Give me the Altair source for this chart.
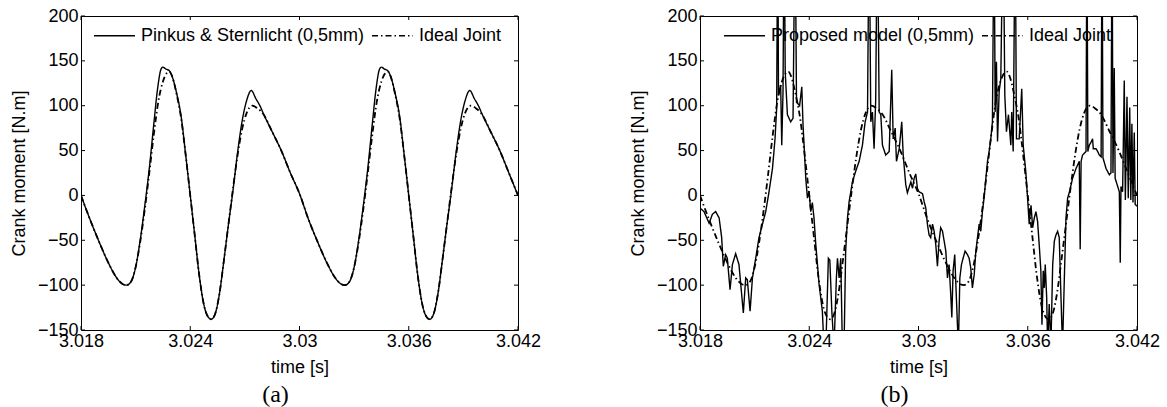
import altair as alt
import pandas as pd

T0 = 3.018  # time origin, s ; all time values below are offsets in ms

# ---------------- data ----------------
x_ticks = [3.018, 3.024, 3.030, 3.036, 3.042]
y_ticks = [-150, -100, -50, 0, 50, 100, 150, 200]

names_a = ["Pinkus & Sternlicht (0,5mm)", "Ideal Joint"]
names_b = ["Proposed model (0,5mm)", "Ideal Joint"]

# Ideal joint (same in both panels)
ideal = [
    (0.0, 0), (0.5, -27), (1.0, -52), (1.5, -75), (2.0, -93), (2.3, -99), (2.5, -100), (2.75, -96),
    (3.0, -80), (3.25, -52), (3.5, -16), (3.75, 25), (4.0, 68), (4.25, 105), (4.5, 127), (4.7, 136),
    (4.85, 138), (5.0, 133), (5.25, 113), (5.5, 86), (5.75, 45), (6.0, 0), (6.25, -45), (6.5, -90),
    (6.75, -122), (7.0, -136), (7.15, -138), (7.35, -133), (7.6, -110), (7.85, -72), (8.1, -32),
    (8.35, 8), (8.6, 45), (8.85, 74), (9.1, 92), (9.4, 100), (9.7, 97), (10.0, 91), (10.5, 71),
    (11.0, 50), (11.5, 25),
    (12.0, 2), (12.5, -27), (13.0, -52), (13.5, -75), (14.0, -93), (14.3, -99), (14.5, -100),
    (14.75, -96), (15.0, -80), (15.25, -52), (15.5, -16), (15.75, 25), (16.0, 68), (16.25, 105),
    (16.5, 127), (16.7, 136), (16.85, 138), (17.0, 133), (17.25, 113), (17.5, 86), (17.75, 45),
    (18.0, 0), (18.25, -45), (18.5, -90), (18.75, -122), (19.0, -136), (19.15, -138), (19.35, -133),
    (19.6, -110), (19.85, -72), (20.1, -32), (20.35, 8), (20.6, 45), (20.85, 74), (21.1, 92),
    (21.4, 100), (21.7, 97), (22.0, 91), (22.5, 71), (23.0, 50), (23.5, 25), (24.0, 0),
]

# Pinkus & Sternlicht (panel a)
pinkus = [
    (0.0, 0), (0.5, -27), (1.0, -52), (1.5, -75), (2.0, -93), (2.3, -99), (2.5, -100), (2.75, -96),
    (3.0, -80), (3.25, -50), (3.5, -12), (3.75, 30), (4.0, 80), (4.2, 118), (4.4, 141), (4.5, 143),
    (4.65, 141), (4.85, 139), (5.0, 133), (5.25, 114), (5.5, 88), (5.75, 45), (6.0, 0), (6.25, -45),
    (6.5, -90), (6.75, -122), (7.0, -136), (7.15, -138), (7.35, -133), (7.6, -110), (7.85, -72),
    (8.1, -32), (8.35, 6), (8.6, 48), (8.85, 83), (9.1, 106), (9.35, 117), (9.6, 108), (9.85, 99),
    (10.0, 92), (10.5, 71), (11.0, 50), (11.5, 25),
    (12.0, 2), (12.5, -27), (13.0, -52), (13.5, -75), (14.0, -93), (14.3, -99), (14.5, -100),
    (14.75, -96), (15.0, -80), (15.25, -50), (15.5, -12), (15.75, 30), (16.0, 80), (16.2, 118),
    (16.4, 141), (16.5, 143), (16.65, 141), (16.85, 139), (17.0, 133), (17.25, 114), (17.5, 88),
    (17.75, 45), (18.0, 0), (18.25, -45), (18.5, -90), (18.75, -122), (19.0, -136), (19.15, -138),
    (19.35, -133), (19.6, -110), (19.85, -72), (20.1, -32), (20.35, 6), (20.6, 48), (20.85, 83),
    (21.1, 106), (21.35, 117), (21.6, 108), (21.85, 99), (22.0, 92), (22.5, 71), (23.0, 50),
    (23.5, 25), (24.0, 0),
]

# Proposed model (panel b) - noisy, spikes leave the axes
proposed = [
    (0.00, -14), (0.22, -18), (0.50, -31), (0.68, -21), (0.86, -18), (1.05, -25), (1.19, -47),
    (1.28, -79), (1.41, -66), (1.50, -70), (1.65, -105), (1.78, -77), (1.96, -65), (2.14, -77),
    (2.38, -131), (2.51, -92), (2.60, -94), (2.75, -129), (2.88, -92), (3.06, -70), (3.24, -47),
    (3.43, -32), (3.61, -18), (3.79, 4), (3.98, 30), (4.12, 63), (4.21, 97), (4.27, 320),
    (4.31, 112), (4.43, 123), (4.49, 56), (4.56, 116), (4.62, 320), (4.68, 138), (4.80, 90),
    (4.98, 82), (5.11, 86), (5.22, 320), (5.30, 104), (5.47, 100), (5.59, 121), (5.66, 78),
    (5.81, 19), (5.90, -3), (5.99, 5), (6.08, -18), (6.17, -8), (6.26, -25), (6.36, -55),
    (6.45, -77), (6.54, -99), (6.63, -114), (6.72, -129), (6.81, -170), (6.91, -170), (7.05, -70),
    (7.13, -72), (7.24, -129), (7.36, -170), (7.49, -92), (7.55, -70), (7.64, -92), (7.73, -70),
    (7.82, -170), (7.91, -170), (8.00, -62), (8.10, -25), (8.19, -7), (8.37, 15), (8.55, 27),
    (8.74, 38), (8.92, 56), (9.07, 82), (9.20, 93), (9.29, 320), (9.38, 82), (9.47, 93),
    (9.56, 52), (9.65, 107), (9.74, 320), (9.84, 93), (9.93, 90), (10.02, 56), (10.20, 45),
    (10.39, 49), (10.53, 140), (10.61, 63), (10.72, 75), (10.79, 38), (10.94, 52), (11.08, 82),
    (11.16, 45), (11.30, 12), (11.39, 3), (11.58, 15), (11.67, 8), (11.76, 19), (11.85, 24),
    (11.94, 8), (12.03, 4), (12.22, 2), (12.31, -7), (12.40, -14), (12.49, -32), (12.58, -44),
    (12.67, -47), (12.77, -32), (12.86, -40), (12.95, -55), (13.04, -79), (13.13, -51),
    (13.22, -36), (13.32, -40), (13.41, -51), (13.50, -62), (13.59, -92), (13.68, -77),
    (13.77, -110), (13.83, -136), (13.90, -84), (13.99, -66), (14.08, -114), (14.19, -170),
    (14.27, -92), (14.36, -77), (14.45, -70), (14.56, -62), (14.69, -66), (14.78, -70),
    (14.87, -81), (14.96, -103), (15.06, -88), (15.15, -62), (15.24, -47), (15.33, -32),
    (15.42, -40), (15.51, -18), (15.60, -3), (15.70, 19), (15.79, 38), (15.88, 49), (15.97, 63),
    (16.06, 82), (16.15, 320), (16.21, 93), (16.28, 149), (16.34, 60), (16.43, 116), (16.52, 130),
    (16.65, 320), (16.74, 112), (16.83, 71), (16.94, 90), (17.07, 56), (17.12, 93), (17.20, 49),
    (17.31, 320), (17.38, 63), (17.53, 63), (17.67, 119), (17.75, 56), (17.89, 27), (17.99, -3),
    (18.08, -32), (18.18, -11), (18.27, -36), (18.36, -25), (18.45, -18), (18.54, -29),
    (18.63, -55), (18.72, -84), (18.78, -144), (18.85, -84), (18.91, -103), (18.96, -77),
    (19.04, -114), (19.09, -170), (19.18, -121), (19.27, -170), (19.37, -77), (19.46, -51),
    (19.55, -44), (19.64, -40), (19.73, -47), (19.82, -110), (19.91, -170), (20.01, -92),
    (20.10, -25), (20.19, -3), (20.29, 4), (20.46, 19), (20.65, 30), (20.83, 38), (20.88, -60),
    (20.93, 38), (21.01, 45), (21.20, 49), (21.25, 320), (21.30, 49), (21.38, 56), (21.47, 59),
    (21.56, 63), (21.60, 52), (21.75, 52), (21.84, 49), (21.93, 45), (22.03, 43), (22.08, 320),
    (22.13, 42), (22.30, 30), (22.48, 23), (22.57, 25), (22.63, 320), (22.68, 25), (22.75, 142),
    (22.80, 19), (22.94, 10), (23.03, 4), (23.08, -75), (23.12, 10), (23.21, 4), (23.30, 128),
    (23.36, -5), (23.45, 110), (23.52, -3), (23.60, 98), (23.66, -5), (23.72, 80), (23.78, -8),
    (23.85, 70), (23.90, -10), (24.00, -12),
]


def to_df(pairs, name):
    return pd.DataFrame({
        "t": [T0 + p[0] / 1000.0 for p in pairs],
        "v": [p[1] for p in pairs],
        "series": name,
    })


# ---------------- styling ----------------
FONT = "Liberation Sans"
W, H = 437, 314
TK = 4  # inward tick length

xs = alt.Scale(domain=[3.018, 3.042], nice=False, zero=False)
ys = alt.Scale(domain=[-150, 200], nice=False, zero=False)

x_axis = alt.Axis(values=x_ticks, format=".3~f", title="time [s]", ticks=False, domain=False,
                  grid=False, labelFlush=False, labelOverlap=False, labelPadding=2,
                  labelFont=FONT, labelFontSize=18, labelColor="black",
                  titleFont=FONT, titleFontSize=18, titleFontWeight="normal", titleColor="black",
                  titlePadding=8)
y_axis = alt.Axis(values=y_ticks, title="Crank moment [N.m]", ticks=False, domain=False,
                  grid=False, labelOverlap=False, labelPadding=3,
                  labelFont=FONT, labelFontSize=18, labelColor="black",
                  titleFont=FONT, titleFontSize=18, titleFontWeight="normal", titleColor="black",
                  titlePadding=9)


def panel(solid_df, ideal_df, names, solid_interp, legend_x, letter):
    leg = alt.Legend(title=None, orient="none", legendX=legend_x, legendY=-2,
                     direction="horizontal", symbolType="stroke", symbolSize=1681,
                     symbolStrokeWidth=1.4, labelFont=FONT, labelFontSize=18,
                     labelColor="black", labelOffset=5, columnPadding=4, padding=0,
                     labelLimit=0)
    color = alt.Color("series:N", scale=alt.Scale(domain=names, range=["black", "black"]),
                      legend=leg)
    dash = alt.StrokeDash("series:N",
                          scale=alt.Scale(domain=names, range=[[1, 0], [6, 3, 1.5, 3]]),
                          legend=leg)
    X = alt.X("t:Q", scale=xs, axis=x_axis)
    Y = alt.Y("v:Q", scale=ys, axis=y_axis)

    ideal_line = alt.Chart(ideal_df).mark_line(clip=True, interpolate="monotone",
                                               strokeWidth=1.8).encode(
        x=X, y=Y, color=color, strokeDash=dash)
    solid_line = alt.Chart(solid_df).mark_line(clip=True, interpolate=solid_interp,
                                               strokeWidth=1.4).encode(
        x=X, y=Y, color=color, strokeDash=dash)

    ydf = pd.DataFrame({"v": y_ticks})
    xdf = pd.DataFrame({"t": x_ticks})
    tl = alt.Chart(ydf).mark_rule(color="black").encode(y=Y, x=alt.value(0), x2=alt.value(TK))
    tr = alt.Chart(ydf).mark_rule(color="black").encode(y=Y, x=alt.value(W - TK), x2=alt.value(W))
    tb = alt.Chart(xdf).mark_rule(color="black").encode(x=X, y=alt.value(H - TK), y2=alt.value(H))
    tt = alt.Chart(xdf).mark_rule(color="black").encode(x=X, y=alt.value(0), y2=alt.value(TK))

    return alt.layer(ideal_line, solid_line, tl, tr, tb, tt).properties(
        width=W, height=H,
        title=alt.TitleParams(text=letter, orient="bottom", anchor="middle", frame="bounds",
                              font="Liberation Serif", fontSize=24, fontWeight="normal",
                              color="black", offset=7),
    )


pa = panel(to_df(pinkus, names_a[0]), to_df(ideal, names_a[1]), names_a, "monotone", 12, "(a)")
pb = panel(to_df(proposed, names_b[0]), to_df(ideal, names_b[1]), names_b, "linear", 23, "(b)")

chart = alt.hconcat(pa, pb, spacing=182, bounds="flush").resolve_scale(
    color="independent", strokeDash="independent", x="independent", y="independent"
).resolve_legend(color="independent", strokeDash="independent").configure_view(
    stroke="black", strokeWidth=1
).properties(
    padding={"left": 9, "top": 6, "right": 5, "bottom": 0},
    background="white",
)

chart.save("out.html", embed_options={"renderer": "svg", "actions": False})
